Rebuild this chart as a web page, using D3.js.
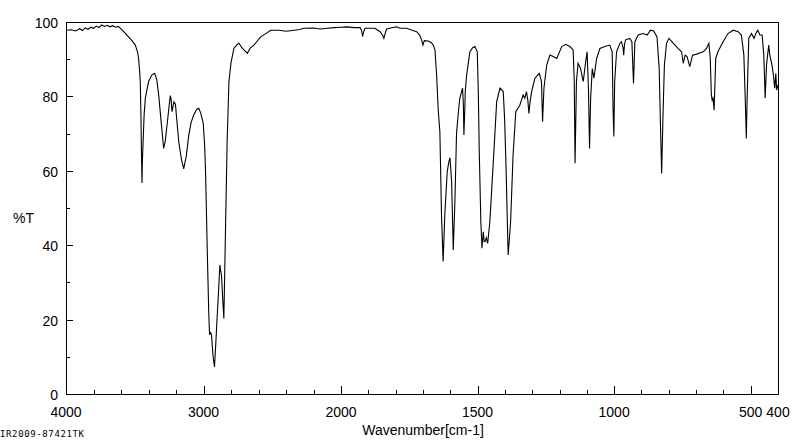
<!DOCTYPE html>
<html>
<head>
<meta charset="utf-8">
<script src="https://cdn.jsdelivr.net/npm/d3@7"></script>
<style>
  body { margin: 0; background: #fff; }
  text { font-family: "Liberation Sans", Arial, sans-serif; fill: #000; }
</style>
</head>
<body>
<svg id="chart" width="800" height="441"></svg>
<script>
// spectrum: wavenumber (cm-1) and %T
const wavenumber = [
  4000, 3960, 3930, 3900, 3880, 3860, 3840, 3820, 3800, 3780, 3760, 3740, 3720, 3700, 3680, 3660, 3640, 3620,
  3590, 3557, 3520, 3496, 3480, 3472, 3465, 3460, 3455, 3452, 3449, 3447, 3445, 3440, 3432, 3423, 3399, 3375,
  3355, 3340, 3326, 3305, 3290, 3278, 3265, 3250, 3241, 3235, 3229, 3215, 3204, 3195, 3180, 3160, 3144, 3125,
  3107, 3090, 3071, 3050, 3034, 3020, 3002, 2992, 2985, 2973, 2962, 2956, 2948, 2942, 2930, 2920, 2910, 2900,
  2890, 2881, 2875, 2869, 2858, 2852, 2846, 2839, 2828, 2815, 2800, 2779, 2760, 2742, 2730, 2717, 2700, 2681,
  2660, 2633, 2600, 2584, 2550, 2511, 2450, 2400, 2341, 2300, 2268, 2200, 2150, 2097, 2050, 2000, 1979, 1950,
  1930, 1925, 1921, 1916, 1912, 1890, 1876, 1857, 1848, 1843, 1838, 1833, 1810, 1796, 1784, 1760, 1737, 1723,
  1712, 1705, 1700, 1695, 1681, 1670, 1662, 1656, 1650, 1644, 1638, 1632, 1626, 1620, 1611, 1605, 1601, 1595,
  1589, 1583, 1577, 1570, 1565, 1555, 1552, 1550, 1547, 1545, 1540, 1528, 1518, 1510, 1501, 1497, 1494, 1488,
  1484, 1479, 1476, 1473, 1468, 1463, 1455, 1443, 1430, 1418, 1406, 1401, 1396, 1388, 1379, 1370, 1360, 1345,
  1333, 1327, 1321, 1316, 1312, 1307, 1302, 1290, 1274, 1266, 1262, 1257, 1247, 1235, 1223, 1210, 1192, 1177,
  1162, 1150, 1146, 1143, 1140, 1138, 1132, 1123, 1113, 1104, 1099, 1094, 1090, 1086, 1080, 1074, 1064, 1052,
  1034, 1016, 1007, 1004, 1001, 998, 991, 979, 973, 967, 965, 962, 958, 943, 935, 929, 924, 912,
  894, 879, 867, 855, 843, 835, 830, 826, 821, 816, 808, 799, 784, 766, 753, 747, 740, 733,
  723, 713, 701, 689, 674, 662, 653, 648, 644, 641, 638, 634, 628, 620, 601, 583, 564, 546,
  534, 525, 520, 516, 513, 507, 497, 488, 481, 474, 466, 458, 452, 447, 442, 434, 430, 422,
  417, 412, 408, 405, 400
];
const transmittance = [
  97.8, 97.9, 97.6, 98.2, 97.7, 98.4, 98.0, 98.6, 98.3, 98.9, 98.5, 99.2, 98.8, 99.1, 98.7, 99.0, 98.6, 98.8,
  97.8, 96.5, 95.0, 93.8, 92.0, 90.2, 87.0, 84.0, 75.0, 67.0, 60.0, 56.7, 62.0, 67.0, 75.0, 79.6, 84.0, 85.8,
  86.2, 84.5, 80.4, 72.0, 66.0, 68.0, 72.3, 77.5, 80.2, 79.0, 75.9, 78.5, 77.9, 74.0, 67.8, 63.0, 60.5, 64.0,
  69.6, 73.0, 75.0, 76.5, 76.8, 75.5, 72.8, 67.0, 59.8, 39.2, 22.0, 15.9, 16.5, 15.9, 10.0, 7.3, 14.0, 21.2,
  28.0, 34.7, 33.0, 32.0, 24.0, 20.3, 32.0, 46.3, 68.0, 84.0, 89.0, 92.9, 93.8, 94.3, 93.6, 92.9, 92.3, 91.6,
  93.0, 93.8, 95.3, 96.0, 96.8, 97.8, 97.8, 97.5, 97.8, 98.0, 98.3, 98.4, 98.1, 98.3, 98.5, 98.6, 98.7, 98.5,
  98.5, 97.8, 96.1, 97.6, 98.3, 98.3, 98.3, 97.4, 96.5, 95.6, 97.0, 98.1, 98.5, 98.7, 98.3, 98.3, 97.7, 97.4,
  96.5, 95.2, 93.8, 95.0, 94.9, 94.5, 93.8, 92.5, 85.8, 76.3, 70.5, 48.1, 35.6, 48.1, 59.8, 62.5, 63.5, 57.1,
  38.7, 51.7, 70.0, 76.0, 79.5, 82.2, 78.0, 69.6, 76.0, 81.3, 85.8, 92.0, 93.1, 93.4, 92.0, 80.0, 66.0, 46.3,
  39.2, 43.6, 41.0, 40.9, 42.0, 40.5, 46.3, 61.6, 78.6, 82.2, 81.3, 74.0, 61.6, 37.4, 46.3, 64.2, 75.9, 77.7,
  80.4, 79.5, 81.3, 79.0, 75.4, 79.0, 81.3, 84.9, 86.2, 84.0, 73.2, 82.2, 88.4, 91.1, 90.7, 90.2, 93.4, 94.0,
  93.4, 92.5, 84.0, 62.0, 75.0, 84.0, 88.9, 87.5, 84.0, 89.4, 92.0, 82.2, 66.0, 79.5, 87.5, 84.9, 90.2, 92.9,
  93.4, 93.8, 92.0, 76.8, 69.2, 84.0, 92.0, 94.3, 94.7, 93.0, 91.1, 94.0, 95.2, 95.6, 94.7, 83.5, 94.7, 96.5,
  96.9, 96.5, 97.8, 97.6, 96.0, 87.5, 71.4, 59.3, 75.0, 88.4, 94.3, 95.6, 94.3, 92.9, 92.0, 88.9, 91.1, 90.7,
  88.0, 91.1, 91.3, 91.6, 92.0, 92.9, 94.3, 90.2, 80.4, 79.0, 79.5, 76.3, 90.2, 92.0, 94.7, 96.9, 97.8, 97.4,
  96.5, 91.1, 79.5, 68.7, 79.5, 95.6, 96.9, 95.6, 96.9, 97.8, 96.5, 96.5, 91.1, 79.5, 88.4, 93.8, 91.1, 88.4,
  85.8, 82.2, 86.2, 81.7, 83.1
];

const xTickLabels = [4000, 3000, 2000, 1500, 1000, 500, 400];
const xMajorTicks = [3000, 2000, 1500, 1000, 500];
const xMinorTicks = [3800, 3600, 3400, 3200, 2800, 2600, 2400, 2200,
  1900, 1800, 1700, 1600, 1400, 1300, 1200, 1100, 900, 800, 700, 600];
const yTickLabels = [0, 20, 40, 60, 80, 100];
const yMinorTicks = [10, 30, 50, 70, 90];

const plotLeft = 66, plotRight = 778, plotTop = 22, plotBottom = 394;

const svg = d3.select("#chart");

// the scan is compressed 2:1 above 2000 cm-1
const x = d3.scaleLinear().domain([4000, 2000, 400]).range([plotLeft, 341, plotRight]);
const y = d3.scaleLinear().domain([0, 100]).range([plotBottom, plotTop]);

const data = wavenumber.map((w, i) => ({ w: w, t: transmittance[i] }));

// frame
svg.append("rect")
  .attr("x", plotLeft + 0.5).attr("y", plotTop + 0.5)
  .attr("width", plotRight - plotLeft).attr("height", plotBottom - plotTop)
  .attr("fill", "none").attr("stroke", "#000").attr("stroke-width", 1)
  .attr("shape-rendering", "crispEdges");

// x ticks point up into the plot
const g = svg.append("g").attr("shape-rendering", "crispEdges");
g.selectAll("line.xmin").data(xMinorTicks).enter().append("line")
  .attr("x1", d => Math.round(x(d)) + 0.5).attr("x2", d => Math.round(x(d)) + 0.5)
  .attr("y1", plotBottom).attr("y2", plotBottom - 4)
  .attr("stroke", "#000");
g.selectAll("line.xmaj").data(xMajorTicks).enter().append("line")
  .attr("x1", d => Math.round(x(d)) + 0.5).attr("x2", d => Math.round(x(d)) + 0.5)
  .attr("y1", plotBottom).attr("y2", plotBottom - 8)
  .attr("stroke", "#000");

// y ticks point right into the plot
g.selectAll("line.ymin").data(yMinorTicks).enter().append("line")
  .attr("y1", d => Math.round(y(d)) + 0.5).attr("y2", d => Math.round(y(d)) + 0.5)
  .attr("x1", plotLeft).attr("x2", plotLeft + 4)
  .attr("stroke", "#000");
g.selectAll("line.ymaj").data(yTickLabels.slice(1, -1)).enter().append("line")
  .attr("y1", d => Math.round(y(d)) + 0.5).attr("y2", d => Math.round(y(d)) + 0.5)
  .attr("x1", plotLeft).attr("x2", plotLeft + 7)
  .attr("stroke", "#000");

svg.selectAll("text.xl").data(xTickLabels).enter().append("text")
  .attr("x", d => x(d)).attr("y", 417)
  .attr("text-anchor", "middle")
  .style("font-size", "14px")
  .text(d => d);

svg.selectAll("text.yl").data(yTickLabels).enter().append("text")
  .attr("x", 58).attr("y", d => y(d) + 6)
  .attr("text-anchor", "end")
  .style("font-size", "14px")
  .text(d => d);

svg.append("text").attr("x", 13).attr("y", 223)
  .style("font-size", "14px").text("%T");

svg.append("text").attr("x", 423).attr("y", 435)
  .attr("text-anchor", "middle")
  .style("font-size", "14px").text("Wavenumber[cm-1]");

svg.append("text").attr("x", 0).attr("y", 437)
  .attr("textLength", 84)
  .style("font-family", "'DejaVu Sans Mono', monospace")
  .style("font-size", "9px").text("IR2009-87421TK");

// spectrum
const line = d3.line().x(d => x(d.w)).y(d => y(d.t));
svg.append("path")
  .datum(data)
  .attr("d", line)
  .attr("fill", "none")
  .attr("stroke", "#000")
  .attr("stroke-width", 1.1);
</script>
</body>
</html>
